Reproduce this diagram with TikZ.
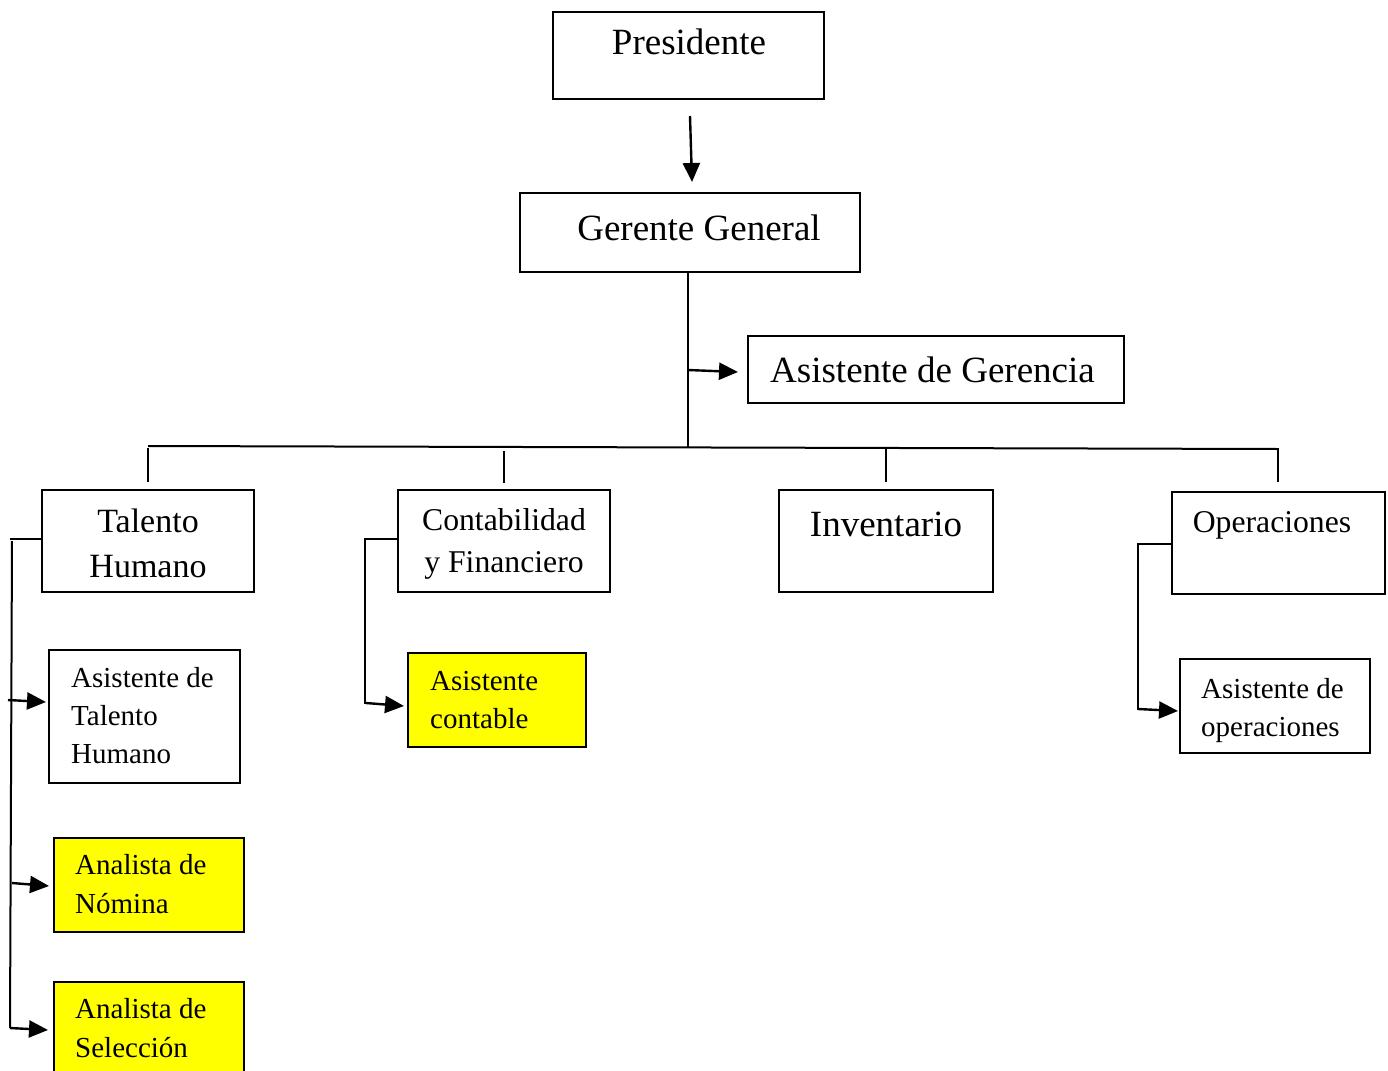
\documentclass[tikz,border=0pt]{standalone}
\usepackage{fontspec}
\setmainfont{Liberation Serif}
\usetikzlibrary{arrows.meta}
\definecolor{hlyellow}{RGB}{255,255,0}
\newcommand{\szTop}{\fontsize{37}{44}\selectfont}
\newcommand{\szTH}{\fontsize{34}{40}\selectfont}
\newcommand{\szMid}{\fontsize{31.7}{38}\selectfont}
\newcommand{\szSub}{\fontsize{29}{35}\selectfont}
\tikzset{
  box/.style={draw, line width=2pt, inner sep=0pt, fill=white},
  hlbox/.style={box, fill=hlyellow},
  wire/.style={line width=2pt},
  arr/.style={line width=2.4pt, -{Triangle[length=19pt,width=17pt]}},
  txc/.style={inner sep=0pt, anchor=base},
  txl/.style={inner sep=0pt, anchor=base west},
}
\begin{document}
\begin{tikzpicture}[x=1pt, y=-1pt]
\clip (0,0) rectangle (1388,1070);
\fill[white] (0,0) rectangle (1388,1070);

% boxes
\node[box, minimum width=271pt, minimum height=87pt] (pres) at (688.5,55.5) {};
\node[box, minimum width=340pt, minimum height=79pt] (gg) at (690,232.5) {};
\node[box, minimum width=376pt, minimum height=67pt] (ag) at (936,369.5) {};
\node[box, minimum width=212pt, minimum height=102pt] (th) at (148,541) {};
\node[box, minimum width=212pt, minimum height=102pt] (cf) at (504,541) {};
\node[box, minimum width=214pt, minimum height=102pt] (inv) at (886,541) {};
\node[box, minimum width=213pt, minimum height=102pt] (op) at (1278.5,543) {};
\node[box, minimum width=191pt, minimum height=133pt] (ath) at (144.5,716.5) {};
\node[hlbox, minimum width=178pt, minimum height=94pt] (ac) at (497,700) {};
\node[hlbox, minimum width=190pt, minimum height=94pt] (an) at (149,885) {};
\node[hlbox, minimum width=190pt, minimum height=108pt] (as) at (149,1036) {};
\node[box, minimum width=190pt, minimum height=94pt] (ao) at (1275,706) {};

% labels
\node[txc, font=\szTop] (presT) at (689,55) {Presidente};
\node[txc, font=\szTop] (ggT) at (699,240) {Gerente General};
\node[txl, font=\szTop] (agT) at (770,382) {Asistente de Gerencia};
\node[txc, font=\szTH] (thA) at (148,532) {Talento};
\node[txc, font=\szTH] (thB) at (148,577) {Humano};
\node[txc, font=\szMid] (cfA) at (504,530) {Contabilidad};
\node[txc, font=\szMid] (cfB) at (504,572) {y Financiero};
\node[txc, font=\szTop] (invT) at (886,536) {Inventario};
\node[txc, font=\szMid] (opT) at (1272,532) {Operaciones};
\node[txl, font=\szSub] (athA) at (71,687) {Asistente de};
\node[txl, font=\szSub] (athB) at (71,725) {Talento};
\node[txl, font=\szSub] (athC) at (71,763) {Humano};
\node[txl, font=\szSub] (acA) at (430,690) {Asistente};
\node[txl, font=\szSub] (acB) at (430,728) {contable};
\node[txl, font=\szSub] (anA) at (75,874) {Analista de};
\node[txl, font=\szSub] (anB) at (75,913) {Nómina};
\node[txl, font=\szSub] (asA) at (75,1018) {Analista de};
\node[txl, font=\szSub] (asB) at (75,1057) {Selección};
\node[txl, font=\szSub] (aoA) at (1201,698) {Asistente de};
\node[txl, font=\szSub] (aoB) at (1201,736) {operaciones};

% connector end points
\coordinate (p1) at (690,116);
\coordinate (p2) at (692,182);
\coordinate (busC) at (688,447);
\coordinate (agS) at (688,370);
\coordinate (agE) at (738,372);
\coordinate (busL) at (148,446);
\coordinate (busR) at (1278,449);
\coordinate (dTh1) at (148,448);   \coordinate (dTh2) at (148,482);
\coordinate (dCf1) at (504,451);   \coordinate (dCf2) at (504,483);
\coordinate (dInv1) at (886,447);  \coordinate (dInv2) at (886,482);
\coordinate (dOp1) at (1278,448);  \coordinate (dOp2) at (1278,482);
\coordinate (thL) at (10,539);
\coordinate (thV1) at (12,541);
\coordinate (thV2) at (10,1028);
\coordinate (a1s) at (8,700);   \coordinate (a1e) at (46,702);
\coordinate (a2s) at (12,883);  \coordinate (a2e) at (49,886);
\coordinate (a3s) at (10,1028); \coordinate (a3e) at (48,1030);
\coordinate (cfL) at (365,539);
\coordinate (cfV) at (365,704);
\coordinate (a4s) at (366,703); \coordinate (a4e) at (404,706);
\coordinate (opL) at (1138,544);
\coordinate (opV) at (1138,710);
\coordinate (a5s) at (1138,709); \coordinate (a5e) at (1178,711);

% top of the chart
\draw[arr] (p1) -- (p2);
\draw[wire] (gg.south -| busC) -- (busC);
\draw[arr] (agS) -- (agE);

% department bus and drops
\draw[wire] (busL) -- (busR);
\draw[wire] (dTh1) -- (dTh2);
\draw[wire] (dCf1) -- (dCf2);
\draw[wire] (dInv1) -- (dInv2);
\draw[wire] (dOp1) -- (dOp2);

% Talento Humano branch
\draw[wire] (th.west |- thL) -- (thL);
\draw[wire] (thV1) -- (thV2);
\draw[arr] (a1s) -- (a1e);
\draw[arr] (a2s) -- (a2e);
\draw[arr] (a3s) -- (a3e);

% Contabilidad branch
\draw[wire] (cf.west |- cfL) -- (cfL) -- (cfV);
\draw[arr] (a4s) -- (a4e);

% Operaciones branch
\draw[wire] (op.west |- opL) -- (opL) -- (opV);
\draw[arr] (a5s) -- (a5e);
\end{tikzpicture}
\end{document}
